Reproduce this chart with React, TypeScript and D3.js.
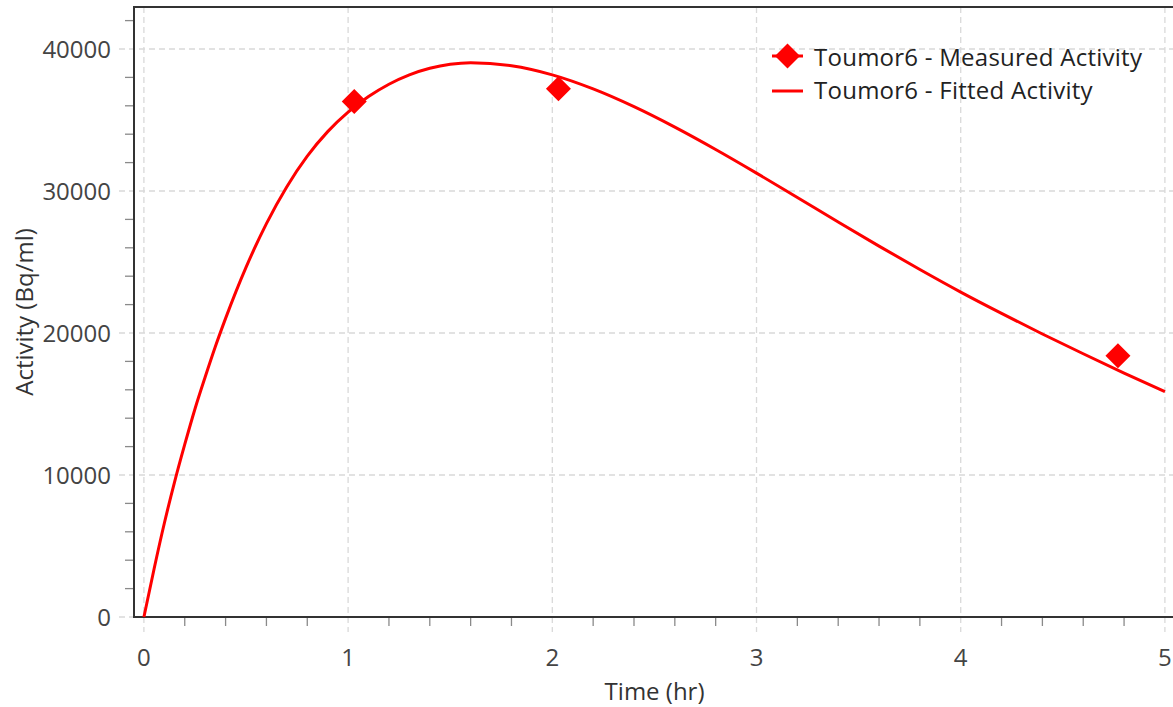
import React from 'react';
import * as d3 from 'd3';

// Fitted activity curve
const fittedTime = [0, 0.05, 0.1, 0.15, 0.2, 0.25, 0.3, 0.35, 0.4, 0.5, 0.6, 0.7, 0.8, 0.9, 1.0, 1.1, 1.2, 1.3, 1.4, 1.5, 1.6, 1.8, 2.0, 2.2, 2.4, 2.6, 2.8, 3.0, 3.2, 3.4, 3.6, 3.8, 4.0, 4.2, 4.4, 4.6, 4.8, 5.0];
const fittedActivity = [0, 3400, 6600, 9500, 12150, 14650, 16900, 19050, 21030, 24620, 27700, 30300, 32450, 34180, 35550, 36650, 37520, 38180, 38640, 38930, 39040, 38820, 38180, 37190, 35940, 34500, 32925, 31260, 29545, 27820, 26120, 24470, 22880, 21380, 19930, 18540, 17180, 15870];

// Measured activity points
const measuredTime = [1.03, 2.03, 4.77];
const measuredActivity = [36300, 37200, 18400];

const xTicks = [0, 1, 2, 3, 4, 5];
const yTicks = [0, 10000, 20000, 30000, 40000];
const seriesNames = ['Toumor6 - Measured Activity', 'Toumor6 - Fitted Activity'];
const xTitle = 'Time (hr)';
const yTitle = 'Activity (Bq/ml)';

const W = 1173;
const H = 707;
const FONT = "'Open Sans', 'Noto Sans', sans-serif";
const RED = '#ff0000';

export default function App() {
  const left = 134;
  const top = 7;
  const bottom = 617;
  const x = d3.scaleLinear().domain([-0.05, 5.05]).range([left - 0.3, left - 0.3 + 5.1 * 204.2]);
  const y = d3.scaleLinear().domain([0, 43000]).range([bottom, bottom - 43000 * 0.0142]);
  const right = x(5.05);

  const fitted = fittedTime.map((t, i) => [t, fittedActivity[i]] as [number, number]);
  const line = d3.line<[number, number]>().x(d => x(d[0])).y(d => y(d[1])).curve(d3.curveMonotoneX);

  const xMinor = d3.range(0, 5.0001, 0.2).filter(v => Math.abs(v - Math.round(v)) > 1e-6);
  const yMinor = d3.range(0, 42001, 2000).filter(v => v % 10000 !== 0);

  const diamond = (cx: number, cy: number, r: number) => `M${cx},${cy - r}L${cx + r},${cy}L${cx},${cy + r}L${cx - r},${cy}Z`;

  return (
    <svg width={W} height={H} style={{ position: 'absolute', left: 0, top: 0, display: 'block', background: '#fff' }} fontFamily={FONT}>
      <rect x={0} y={0} width={W} height={H} fill="#fff" />
      {/* gridlines */}
      <g stroke="#d9d9d9" strokeWidth={1.3} strokeDasharray="6 4">
        {yTicks.map(v => (
          <line key={'gy' + v} x1={left - 15} x2={right} y1={y(v)} y2={y(v)} />
        ))}
        {xTicks.map(v => (
          <line key={'gx' + v} x1={x(v)} x2={x(v)} y1={top} y2={bottom + 15} />
        ))}
      </g>
      {/* minor ticks */}
      <g stroke="#8a8a8a" strokeWidth={1.3}>
        {yMinor.map(v => (
          <line key={'my' + v} x1={left - 9} x2={left} y1={y(v)} y2={y(v)} />
        ))}
        {xMinor.map(v => (
          <line key={'mx' + v} x1={x(v)} x2={x(v)} y1={bottom} y2={bottom + 9} />
        ))}
      </g>
      {/* frame */}
      <path d={`M${right + 5},${top}H${left}V${bottom}H${right + 5}`} fill="none" stroke="#333" strokeWidth={2} />
      {/* fitted curve */}
      <path d={line(fitted) || ''} fill="none" stroke={RED} strokeWidth={3} />
      {/* measured points */}
      {measuredTime.map((t, i) => (
        <path key={'m' + i} d={diamond(x(t), y(measuredActivity[i]), 12.5)} fill={RED} />
      ))}
      {/* tick labels */}
      <g fontSize={24} fill="#444">
        {yTicks.map(v => (
          <text key={'ly' + v} x={111} y={y(v)} dy="0.36em" textAnchor="end">{v}</text>
        ))}
        {xTicks.map(v => (
          <text key={'lx' + v} x={x(v)} y={666} textAnchor="middle">{v}</text>
        ))}
      </g>
      {/* axis titles */}
      <text x={(left + right) / 2} y={699.5} textAnchor="middle" fontSize={24} fill="#333">{xTitle}</text>
      <text transform={`translate(33,${(top + bottom) / 2}) rotate(-90)`} textAnchor="middle" fontSize={24} fill="#333">{yTitle}</text>
      {/* legend */}
      <g>
        <line x1={772} x2={803} y1={56} y2={56} stroke={RED} strokeWidth={3} />
        <path d={diamond(787.5, 56, 12.5)} fill={RED} />
        <text x={814} y={65.5} fontSize={24} fill="#222" letterSpacing={0.25}>{seriesNames[0]}</text>
        <line x1={772} x2={803} y1={91} y2={91} stroke={RED} strokeWidth={3} />
        <text x={814} y={98.5} fontSize={24} fill="#222" letterSpacing={0.25}>{seriesNames[1]}</text>
      </g>
    </svg>
  );
}
